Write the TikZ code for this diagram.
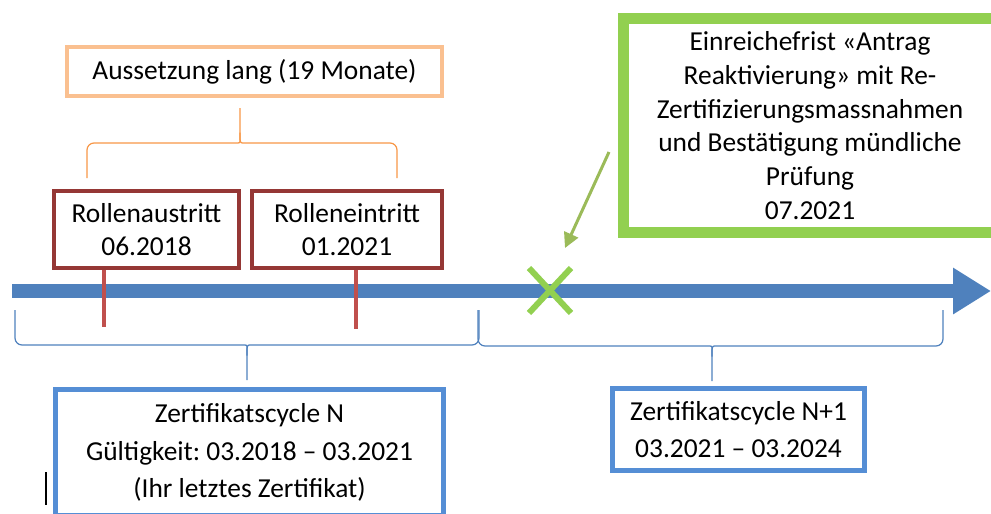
\documentclass[tikz,border=0pt]{standalone}
\usepackage{fontspec}
\setmainfont{Carlito}
\usepackage{xcolor}
\usepackage{tikz}
\usetikzlibrary{positioning, arrows.meta, calc}
\definecolor{tlblue}{HTML}{4F81BD}
\definecolor{boxblue}{HTML}{558ED5}
\definecolor{tickred}{HTML}{C0504D}
\definecolor{rolered}{HTML}{953735}
\definecolor{lightorange}{HTML}{FAC090}
\definecolor{braceorange}{HTML}{F79646}
\definecolor{frgreen}{HTML}{92D050}
\definecolor{arrgreen}{HTML}{9BBB59}
\frenchspacing

% curly brace: style, left x, tip x, right x, end y, bar y, tip y
\newcommand{\curlybrace}[7]{%
  \draw[curly, #1] (#2,#5) -- (#2,#6) -- ({#3-9},#6)
    .. controls (#3,#6) .. (#3,{#6+0.3*(#7-#6)}) -- (#3,#7);
  \draw[curly, #1] (#4,#5) -- (#4,#6) -- ({#3+9},#6)
    .. controls (#3,#6) .. (#3,{#6+0.3*(#7-#6)});
}

\begin{document}
\begin{tikzpicture}[
  x=0.02cm, y=-0.02cm,
  box/.style={
    rectangle, draw, fill=white, inner sep=0pt, align=center,
    font=\fontsize{15.6}{19.2}\selectfont
  },
  pausebox/.style={box, draw=lightorange, line width=0.08cm,
    minimum width=7.5cm, minimum height=0.98cm},
  rolebox/.style={box, draw=rolered, line width=0.07cm, minimum height=1.55cm},
  fristbox/.style={box, draw=frgreen, line width=0.22cm,
    minimum width=7.46cm, minimum height=4.28cm},
  cyclebox/.style={box, draw=boxblue, line width=0.09cm,
    font=\fontsize{15.6}{21.5}\selectfont},
  timeline/.style={line width=0.28cm, draw=tlblue,
    -{Triangle[length=0.76cm, width=0.88cm]}},
  redtick/.style={line width=0.08cm, draw=tickred},
  cross/.style={line width=0.12cm, draw=frgreen},
  greenarr/.style={line width=0.06cm, draw=arrgreen, fill=arrgreen,
    -{Triangle[length=0.3cm, width=0.3cm]}},
  curly/.style={line width=0.7pt, rounded corners=0.14cm},
]
\useasboundingbox (0,0) rectangle (991,514);
\clip (0,0) rectangle (991,514);

% Timeline
\coordinate (tlstart) at (12,291);
\coordinate (tlend) at (991,291);
\draw[timeline] (tlstart) -- (tlend);

% Role boxes with ticks
\node[rolebox, minimum width=3.71cm] (austritt) at (146.5,229.5) {Rollenaustritt\\06.2018};
\node[rolebox, minimum width=3.81cm] (eintritt) at (347,229.5) {Rolleneintritt\\01.2021};
\coordinate (tickA) at (104,327);
\coordinate (tickB) at (356,329);
\draw[redtick] (tickA |- austritt.south) -- (tickA);
\draw[redtick] (tickB |- eintritt.south) -- (tickB);

% Pause
\node[pausebox] (pause) at (254.5,71.5) {Aussetzung lang (19 Monate)};
\curlybrace{draw=braceorange}{87}{240}{397}{178}{143}{108}

% Deadline
\node[fristbox] (frist) at (810,125.5)
  {Einreichefrist «Antrag\\Reaktivierung» mit Re-\\Zertifizierungsmassnahmen\\und Bestätigung mündliche\\Prüfung\\07.2021};
\coordinate (kreuz) at (550,290);
\draw[cross] ([shift={(-21,-22)}]kreuz) -- ([shift={(21,23)}]kreuz);
\draw[cross] ([shift={(-21,23)}]kreuz) -- ([shift={(21,-22)}]kreuz);
\coordinate (pfeilstart) at (609,152);
\draw[greenarr] (pfeilstart) -- ([shift={(15,-42)}]kreuz);

% Certificate cycles
\curlybrace{draw=tlblue}{15}{247}{479}{310}{345}{380}
\curlybrace{draw=tlblue}{478}{712}{943}{310}{346}{381}
\node[cyclebox, minimum width=7.77cm, minimum height=2.53cm] (cycleN) at (249.5,452.5)
  {Zertifikatscycle N\\Gültigkeit: 03.2018 – 03.2021\\(Ihr letztes Zertifikat)};
\node[cyclebox, minimum width=5.05cm, minimum height=1.65cm] (cycleN1) at (738.5,429.5)
  {Zertifikatscycle N+1\\ 03.2021 – 03.2024};

\draw[line width=0.6pt] (46,472) -- (46,505);
\end{tikzpicture}
\end{document}
